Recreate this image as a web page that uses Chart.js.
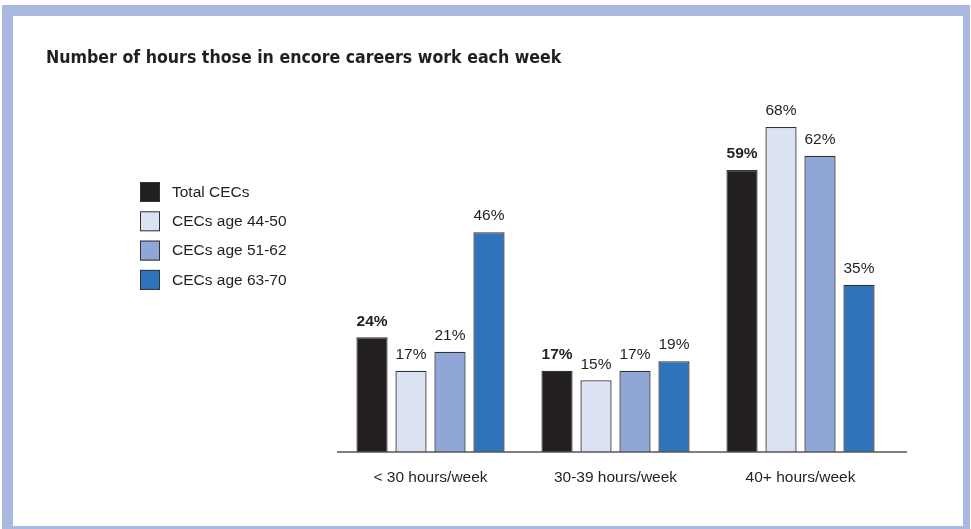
<!DOCTYPE html>
<html>
<head>
<meta charset="utf-8">
<script src="https://cdn.jsdelivr.net/npm/chart.js@4.4.1/dist/chart.umd.min.js"></script>
<style>
  html, body { margin: 0; padding: 0; background: #fff; }
  .frame {
    position: absolute;
    left: 2px; top: 5px;
    width: 950px; height: 510px;
    border-style: solid;
    border-color: #a9b9e0;
    border-width: 11px 7px 3px 11px;
    background: #fff;
  }
  canvas { display: block; }
</style>
</head>
<body>
<div class="frame"><canvas id="hoursChart" width="950" height="510"></canvas></div>
<script>
const categories = ['< 30 hours/week', '30-39 hours/week', '40+ hours/week'];
const seriesNames = ['Total CECs', 'CECs age 44-50', 'CECs age 51-62', 'CECs age 63-70'];
const totalCECs = [24, 17, 59];
const age44to50 = [17, 15, 68];
const age51to62 = [21, 17, 62];
const age63to70 = [46, 19, 35];
const seriesColors = ['#231f20', '#dbe2f2', '#8fa6d7', '#2f73bb'];

const textColor = '#231f20';
const bodyFont = '"Liberation Sans", Arial, sans-serif';

// value labels above each bar, the totals in bold
const barLabels = {
    id: 'barLabels',
    afterDatasetsDraw(chart) {
        const ctx = chart.ctx;
        ctx.save();
        ctx.fillStyle = textColor;
        ctx.textAlign = 'center';
        ctx.textBaseline = 'middle';
        chart.data.datasets.forEach((ds, i) => {
            const meta = chart.getDatasetMeta(i);
            ctx.font = (i === 0 ? 'bold ' : '') + '15.5px ' + bodyFont;
            meta.data.forEach((bar, j) => {
                ctx.fillText(ds.data[j] + '%', bar.x, bar.y - 16);
            });
        });
        ctx.restore();
    }
};

// legend drawn as a column of swatches on the left
const sideLegend = {
    id: 'sideLegend',
    afterDraw(chart) {
        const ctx = chart.ctx;
        ctx.save();
        ctx.font = '15.5px ' + bodyFont;
        ctx.textBaseline = 'middle';
        chart.data.datasets.forEach((ds, i) => {
            const top = 166 + i * 29.3;
            ctx.fillStyle = ds.backgroundColor;
            ctx.fillRect(127, top, 20, 20);
            ctx.strokeStyle = '#333';
            ctx.lineWidth = 1;
            ctx.strokeRect(127.5, top + 0.5, 19, 19);
            ctx.fillStyle = textColor;
            ctx.fillText(ds.label, 159, top + 10.5);
        });
        ctx.restore();
    }
};

// baseline runs a little past the last group
const baseline = {
    id: 'baseline',
    afterDatasetsDraw(chart) {
        const ctx = chart.ctx;
        const y = chart.scales.y.getPixelForValue(0);
        ctx.save();
        ctx.strokeStyle = '#555';
        ctx.lineWidth = 1.5;
        ctx.beginPath();
        ctx.moveTo(chart.chartArea.left - 1, y);
        ctx.lineTo(chart.chartArea.right + 14, y);
        ctx.stroke();
        ctx.restore();
    }
};

const seriesData = [totalCECs, age44to50, age51to62, age63to70];

new Chart(document.getElementById('hoursChart'), {
    type: 'bar',
    data: {
        labels: categories,
        datasets: seriesNames.map((name, i) => ({
            label: name,
            data: seriesData[i],
            backgroundColor: seriesColors[i],
            borderColor: '#333',
            borderWidth: 1.3,
            categoryPercentage: 0.843,
            barPercentage: 0.8
        }))
    },
    options: {
        responsive: false,
        animation: false,
        layout: { padding: { left: 33, right: 70, top: 0, bottom: 0 } },
        plugins: {
            legend: { display: false },
            tooltip: { enabled: false },
            title: {
                display: true,
                text: 'Number of hours those in encore careers work each week',
                align: 'start',
                color: textColor,
                font: { family: '"DejaVu Sans Condensed", "Liberation Sans Narrow", sans-serif', size: 17.6, weight: 'bold', lineHeight: 1.2 },
                padding: { top: 31.4, bottom: 48.9 }
            }
        },
        scales: {
            x: {
                grid: { display: false, drawTicks: false },
                border: { display: false },
                ticks: { color: textColor, font: { family: bodyFont, size: 15.5 }, padding: 16 },
                afterFit: (scale) => { scale.height = 74; }
            },
            y: {
                min: 0,
                max: 70,
                grid: { display: false, drawTicks: false },
                border: { display: false },
                ticks: { display: false },
                afterFit: (scale) => { scale.width = 292; }
            }
        }
    },
    plugins: [barLabels, sideLegend, baseline]
});
</script>
</body>
</html>
